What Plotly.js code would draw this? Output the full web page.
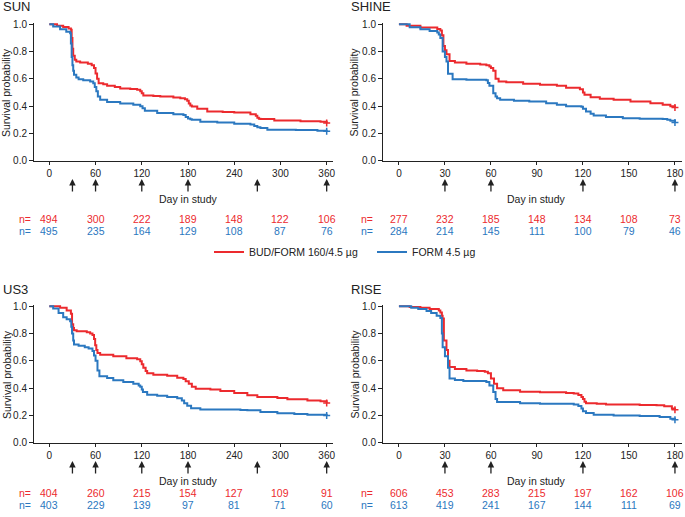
<!DOCTYPE html>
<html>
<head>
<meta charset="utf-8">
<script src="https://cdn.plot.ly/plotly-3.0.1.min.js"></script>
<style>
  body { margin: 0; background: #fff; }
  #chart { width: 685px; height: 517px; }
</style>
</head>
<body>
<div id="chart"></div>
<script>
'use strict'
// Kaplan-Meier curves (day, survival probability)
const sunRedT = [0, 10, 18, 25, 28, 29, 30, 31, 33, 35, 40, 50, 55, 58, 60, 62, 64, 70, 75, 85, 92, 105, 114, 118, 120, 122, 135, 144, 161, 170, 176, 179, 181, 183, 185, 192, 205, 225, 240, 261, 268, 270, 272, 274, 292, 326, 352, 360];
const sunRedS = [1.0, 0.99, 0.98, 0.97, 0.96, 0.90, 0.82, 0.77, 0.74, 0.727, 0.72, 0.71, 0.70, 0.68, 0.64, 0.60, 0.568, 0.56, 0.549, 0.54, 0.53, 0.525, 0.52, 0.51, 0.495, 0.478, 0.475, 0.47, 0.463, 0.458, 0.451, 0.44, 0.42, 0.405, 0.397, 0.38, 0.361, 0.357, 0.354, 0.341, 0.33, 0.315, 0.308, 0.305, 0.295, 0.29, 0.285, 0.276];
const sunBlueT = [0, 5, 14, 22, 27, 28, 29, 30, 31, 32, 35, 38, 44, 53, 57, 59, 61, 63, 66, 75, 92, 109, 118, 121, 124, 140, 161, 174, 177, 180, 183, 185, 196, 218, 240, 261, 266, 270, 274, 283, 320, 348, 360];
const sunBlueS = [1.0, 0.983, 0.963, 0.946, 0.934, 0.86, 0.76, 0.70, 0.66, 0.63, 0.61, 0.598, 0.59, 0.58, 0.568, 0.54, 0.51, 0.47, 0.446, 0.43, 0.42, 0.41, 0.40, 0.385, 0.366, 0.349, 0.341, 0.335, 0.32, 0.31, 0.303, 0.30, 0.285, 0.28, 0.27, 0.265, 0.255, 0.245, 0.239, 0.227, 0.225, 0.22, 0.215];

const shineRedT = [0, 5, 14, 25, 27, 28, 29, 30, 31, 33, 36.5, 44, 53, 57, 59, 60, 61.5, 63, 65, 70, 81, 92, 103, 109, 118, 120, 121, 125, 131, 140, 151, 164, 172, 177, 180];
const shineRedS = [1.0, 0.99, 0.976, 0.966, 0.955, 0.92, 0.84, 0.81, 0.78, 0.73, 0.72, 0.71, 0.705, 0.70, 0.69, 0.68, 0.66, 0.60, 0.58, 0.575, 0.565, 0.556, 0.549, 0.535, 0.524, 0.50, 0.483, 0.466, 0.454, 0.446, 0.434, 0.422, 0.41, 0.40, 0.39];
const shineBlueT = [0, 7, 14, 20, 25, 26, 27, 28.5, 30, 31, 32, 35, 44, 57, 58, 59, 61.5, 63, 64, 66, 75, 85, 96, 103, 109, 119, 120, 122, 125, 127, 135, 146, 157, 172, 175, 177, 180];
const shineBlueS = [1.0, 0.978, 0.963, 0.95, 0.94, 0.925, 0.90, 0.80, 0.76, 0.727, 0.637, 0.598, 0.593, 0.59, 0.57, 0.549, 0.495, 0.47, 0.458, 0.446, 0.44, 0.434, 0.422, 0.41, 0.40, 0.395, 0.38, 0.361, 0.345, 0.332, 0.32, 0.312, 0.307, 0.305, 0.30, 0.293, 0.28];

const us3RedT = [0, 14, 22.5, 28, 29.5, 31, 32, 35.5, 48.6, 53, 56, 58, 59.5, 61, 62.5, 66, 83, 100, 114, 118, 120, 122, 125, 127, 135, 153, 166, 174, 177, 181, 185, 190, 209, 222, 240, 257, 270, 296, 309, 335, 352, 360];
const us3RedS = [1.0, 0.99, 0.97, 0.946, 0.868, 0.84, 0.824, 0.817, 0.81, 0.80, 0.79, 0.76, 0.714, 0.68, 0.658, 0.645, 0.633, 0.62, 0.611, 0.597, 0.575, 0.55, 0.525, 0.51, 0.499, 0.49, 0.477, 0.467, 0.45, 0.433, 0.41, 0.396, 0.39, 0.379, 0.364, 0.347, 0.335, 0.328, 0.318, 0.31, 0.303, 0.291];
const us3BlueT = [0, 5, 12, 18, 22.5, 27, 28.5, 29.5, 31, 32, 38, 46, 51, 56, 58, 60, 62.5, 65, 75, 83, 96, 109, 116, 118, 120, 121.5, 127, 140, 153, 166, 172, 175, 179, 184, 196, 248, 257, 274, 296, 318, 335, 360];
const us3BlueS = [1.0, 0.983, 0.95, 0.92, 0.905, 0.89, 0.85, 0.80, 0.75, 0.72, 0.71, 0.70, 0.69, 0.672, 0.64, 0.60, 0.53, 0.487, 0.474, 0.457, 0.445, 0.433, 0.42, 0.41, 0.39, 0.372, 0.352, 0.345, 0.335, 0.325, 0.31, 0.29, 0.27, 0.252, 0.244, 0.24, 0.237, 0.225, 0.215, 0.21, 0.205, 0.20];

const riseRedT = [0, 7, 14, 20, 26, 27, 28, 28.5, 29.3, 31, 32, 33, 36.5, 44, 51, 56, 58, 60, 62, 64, 68, 79, 92, 109, 114, 117, 119, 120, 121, 122, 129, 135, 157, 168, 173, 178, 180];
const riseRedS = [1.0, 0.995, 0.99, 0.98, 0.97, 0.955, 0.93, 0.91, 0.75, 0.68, 0.60, 0.555, 0.54, 0.53, 0.525, 0.52, 0.51, 0.47, 0.433, 0.40, 0.384, 0.374, 0.369, 0.364, 0.36, 0.35, 0.335, 0.32, 0.30, 0.29, 0.286, 0.28, 0.276, 0.275, 0.267, 0.25, 0.242];
const riseBlueT = [0, 8, 12.6, 18, 21, 24.6, 27, 28, 28.5, 30, 32, 33, 36.5, 42, 57, 59, 61.5, 63, 64, 79, 92, 114, 117, 119, 120, 122, 127, 140, 157, 170, 177, 180];
const riseBlueS = [1.0, 0.99, 0.98, 0.966, 0.95, 0.93, 0.915, 0.80, 0.70, 0.633, 0.55, 0.47, 0.46, 0.452, 0.445, 0.42, 0.372, 0.32, 0.298, 0.29, 0.286, 0.28, 0.269, 0.25, 0.23, 0.218, 0.205, 0.20, 0.196, 0.188, 0.176, 0.169];

// x ticks, arrow days and numbers at risk
const ticks360 = [0, 60, 120, 180, 240, 300, 360];
const ticks180 = [0, 30, 60, 90, 120, 150, 180];
const arrows360 = [30, 60, 120, 180, 270, 360];
const arrows180 = [30, 60, 120, 180];

const sunNRed = [494, 300, 222, 189, 148, 122, 106];
const sunNBlue = [495, 235, 164, 129, 108, 87, 76];
const shineNRed = [277, 232, 185, 148, 134, 108, 73];
const shineNBlue = [284, 214, 145, 111, 100, 79, 46];
const us3NRed = [404, 260, 215, 154, 127, 109, 91];
const us3NBlue = [403, 229, 139, 97, 81, 71, 60];
const riseNRed = [606, 453, 283, 215, 197, 162, 106];
const riseNBlue = [613, 419, 241, 167, 144, 111, 69];

const yTicks = [0, 0.2, 0.4, 0.6, 0.8, 1.0];
const seriesNames = ['BUD/FORM 160/4.5 µg', 'FORM 4.5 µg'];

const RED = '#ec2a2e';
const BLUE = '#2b78c0';
const INK = '#222';
const FONT = 'Liberation Sans, Arial, sans-serif';
const W = 685, H = 517;

function py(px) { return 1 - px / H; }
function pxx(px) { return px / W; }

// panel geometry in pixels (top row; bottom row shifted by dy)
let panels = [
  {name: 'SUN', n: '', left: 0, dy: 0, ticks: ticks360, arrows: arrows360, range: [-19.5, 368.2],
   rT: sunRedT, rS: sunRedS, bT: sunBlueT, bS: sunBlueS, nR: sunNRed, nB: sunNBlue},
  {name: 'SHINE', n: '2', left: 1, dy: 0, ticks: ticks180, arrows: arrows180, range: [-10.2, 184.4],
   rT: shineRedT, rS: shineRedS, bT: shineBlueT, bS: shineBlueS, nR: shineNRed, nB: shineNBlue},
  {name: 'US3', n: '3', left: 0, dy: 282, ticks: ticks360, arrows: arrows360, range: [-19.5, 368.2],
   rT: us3RedT, rS: us3RedS, bT: us3BlueT, bS: us3BlueS, nR: us3NRed, nB: us3NBlue},
  {name: 'RISE', n: '4', left: 1, dy: 282, ticks: ticks180, arrows: arrows180, range: [-10.2, 184.4],
   rT: riseRedT, rS: riseRedS, bT: riseBlueT, bS: riseBlueS, nR: riseNRed, nB: riseNBlue}
];

let traces = [];
let annotations = [];
let layout = {
  width: W, height: H,
  margin: {l: 0, r: 0, t: 0, b: 0},
  paper_bgcolor: '#fff', plot_bgcolor: '#fff',
  font: {family: FONT, size: 10, color: INK},
  showlegend: true,
  legend: {orientation: 'h', x: pxx(209), xanchor: 'left', y: py(252), yanchor: 'middle',
           entrywidthmode: 'pixels', entrywidth: 118,
           font: {family: FONT, size: 10.5, color: INK}, bgcolor: 'rgba(0,0,0,0)'},
  annotations: annotations
};

panels.forEach(function(p, i) {
  let xa = 'x' + p.n, ya = 'y' + p.n;
  let xLeft = p.left ? 383.3 : 34.3;
  let xRight = p.left ? 681.7 : 333;
  let yBot = 160.7 + p.dy, yTop = 24.3 - 1.37 + p.dy;

  layout['xaxis' + p.n] = {
    domain: [pxx(xLeft), pxx(xRight)], range: p.range, anchor: ya,
    tickvals: p.ticks, ticks: 'outside', ticklen: 3, tickwidth: 1, tickcolor: INK,
    showline: true, linewidth: 1.3, linecolor: INK, showgrid: false, zeroline: false,
    tickfont: {family: FONT, size: 10, color: INK}, fixedrange: true
  };
  layout['yaxis' + p.n] = {
    domain: [py(yBot), py(yTop)], range: [0, 1.01], anchor: xa,
    tickvals: yTicks, tickformat: '.1f', ticks: 'outside', ticklen: 4, tickwidth: 1, tickcolor: INK,
    showline: true, linewidth: 1.3, linecolor: INK, showgrid: false, zeroline: false,
    tickfont: {family: FONT, size: 10, color: INK}, fixedrange: true
  };

  traces.push({x: p.rT, y: p.rS, xaxis: xa, yaxis: ya, type: 'scatter', mode: 'lines',
    line: {shape: 'hv', color: RED, width: 2}, name: seriesNames[0], legendgroup: 'r',
    showlegend: i === 0, hoverinfo: 'skip'});
  traces.push({x: p.bT, y: p.bS, xaxis: xa, yaxis: ya, type: 'scatter', mode: 'lines',
    line: {shape: 'hv', color: BLUE, width: 2}, name: seriesNames[1], legendgroup: 'b',
    showlegend: i === 0, hoverinfo: 'skip'});
  // censor cross at the last follow-up point of each curve
  traces.push({x: [p.rT[p.rT.length - 1]], y: [p.rS[p.rS.length - 1]], xaxis: xa, yaxis: ya,
    type: 'scatter', mode: 'markers', showlegend: false, hoverinfo: 'skip', cliponaxis: false,
    marker: {symbol: 'cross-thin', size: 5, line: {color: RED, width: 1.5}}});
  traces.push({x: [p.bT[p.bT.length - 1]], y: [p.bS[p.bS.length - 1]], xaxis: xa, yaxis: ya,
    type: 'scatter', mode: 'markers', showlegend: false, hoverinfo: 'skip', cliponaxis: false,
    marker: {symbol: 'cross-thin', size: 5, line: {color: BLUE, width: 1.5}}});

  // panel title and y title
  annotations.push({text: p.name, xref: 'paper', yref: 'paper', x: pxx(p.left ? 349 : 1), y: py(7 + p.dy),
    xanchor: 'left', yanchor: 'middle', showarrow: false, font: {size: 13, color: INK}});
  annotations.push({text: 'Survival probability', xref: 'paper', yref: 'paper', textangle: -90,
    x: pxx(p.left ? 354 : 6.5), y: py(92.5 + p.dy), xanchor: 'center', yanchor: 'middle',
    showarrow: false, font: {size: 10.5, color: INK}});
  annotations.push({text: 'Day in study', xref: xa, yref: 'paper',
    x: p.ticks[p.ticks.length - 1] / 2, y: py(199 + p.dy), xanchor: 'center', yanchor: 'middle',
    showarrow: false, font: {size: 10.5, color: INK}});

  // arrows under the axis
  p.arrows.forEach(function(d) {
    annotations.push({text: '', xref: xa, yref: 'paper', x: d, y: py(179 + p.dy),
      showarrow: true, ax: 0, ay: 14, arrowhead: 2, arrowsize: 1, arrowwidth: 1.3,
      arrowcolor: INK, standoff: 0});
  });

  // numbers at risk
  let nx = pxx(p.left ? 366.7 : 16.7);
  annotations.push({text: 'n=', xref: 'paper', yref: 'paper', x: nx, y: py(218.7 + p.dy),
    showarrow: false, font: {size: 10.5, color: RED}});
  annotations.push({text: 'n=', xref: 'paper', yref: 'paper', x: nx, y: py(230.7 + p.dy),
    showarrow: false, font: {size: 10.5, color: BLUE}});
  p.ticks.forEach(function(d, k) {
    annotations.push({text: String(p.nR[k]), xref: xa, yref: 'paper', x: d, y: py(218.7 + p.dy),
      showarrow: false, font: {size: 10.5, color: RED}});
    annotations.push({text: String(p.nB[k]), xref: xa, yref: 'paper', x: d, y: py(230.7 + p.dy),
      showarrow: false, font: {size: 10.5, color: BLUE}});
  });
});

Plotly.newPlot(document.getElementById('chart'), traces, layout, {staticPlot: true, displayModeBar: false});
</script>
</body>
</html>
